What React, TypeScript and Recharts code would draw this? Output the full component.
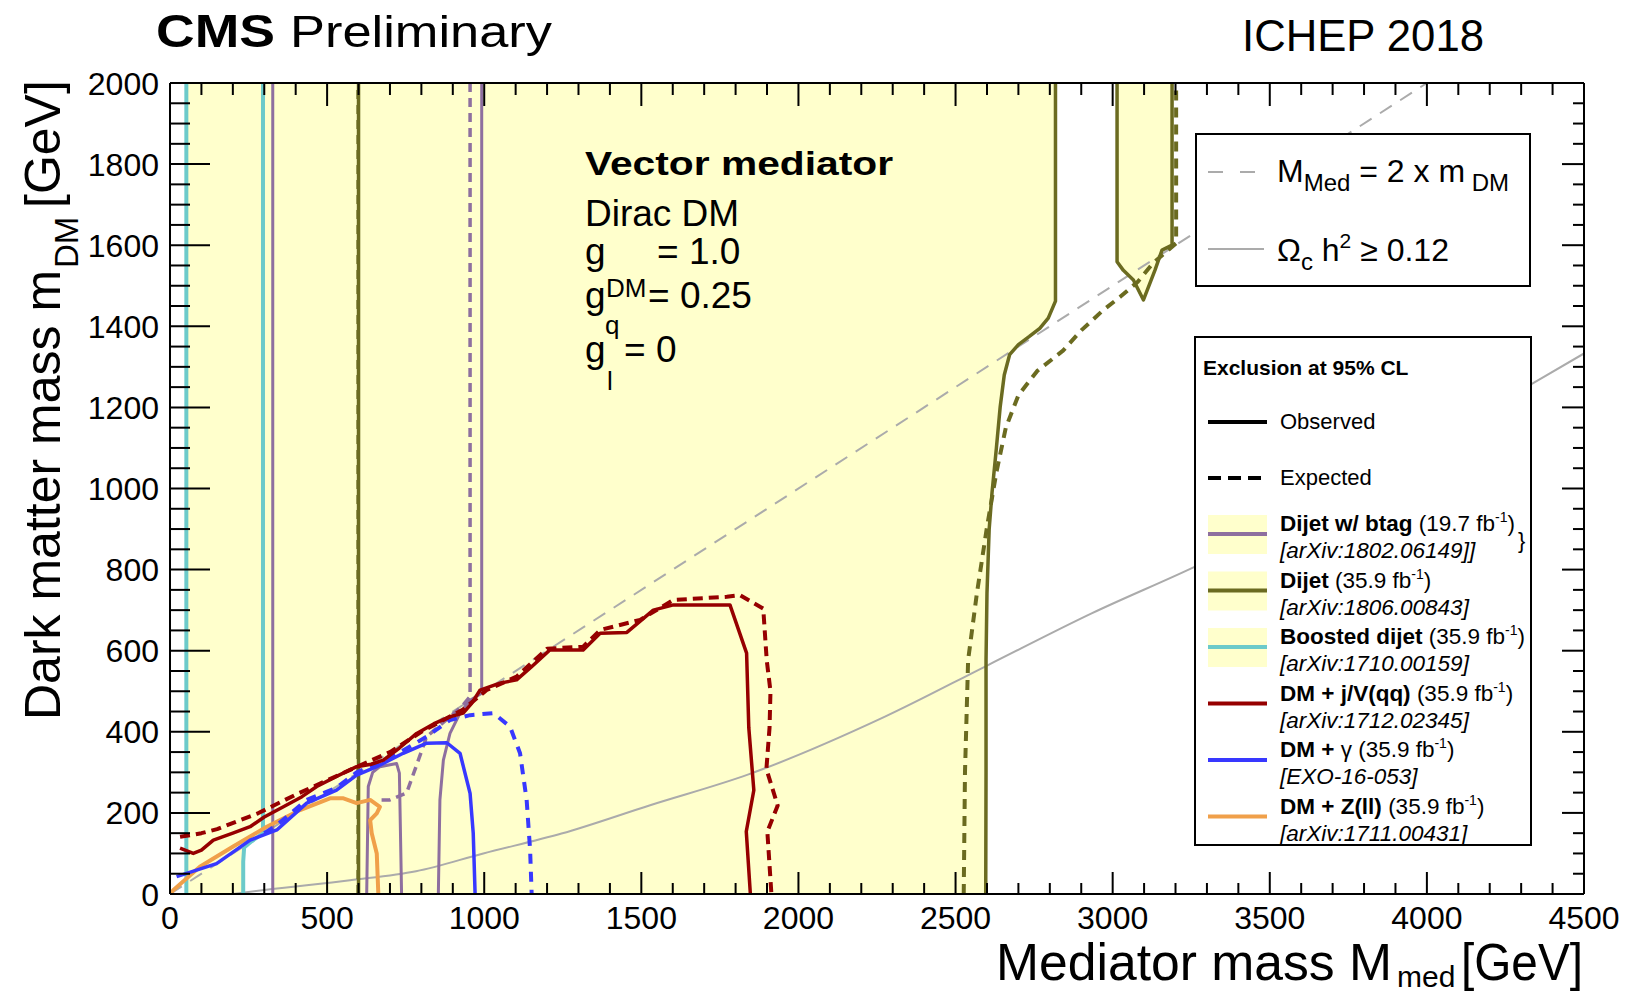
import React from 'react';
import { ComposedChart, Line, Area, XAxis, YAxis } from 'recharts';

const W = 1630;
const H = 994;
const FONT = '"Liberation Sans", Arial, Helvetica, sans-serif';

// ---- axis ticks ----
const xMajorTicks = [0, 500, 1000, 1500, 2000, 2500, 3000, 3500, 4000, 4500];
const yMajorTicks = [0, 200, 400, 600, 800, 1000, 1200, 1400, 1600, 1800, 2000];
const xAllTicks: number[] = [];
for (let v = 0; v <= 4500; v += 100) xAllTicks.push(v);
const yAllTicks: number[] = [];
for (let v = 0; v <= 2000; v += 50) yAllTicks.push(v);

// ---- data: [Mmed, mDM] in GeV ----
const yellowMain = [[48, 0], [2596, 0], [2597, 300], [2597, 577], [2600, 742], [2607, 900], [2616, 989], [2630, 1100], [2642, 1201], [2655, 1280], [2672, 1330], [2700, 1355], [2735, 1375], [2768, 1395], [2795, 1420], [2818, 1462], [2818, 2000]];
const yellowIsland = [[3014, 2000], [3014, 1559], [3034, 1538], [3066, 1514], [3098, 1465], [3135, 1539], [3157, 1588], [3189, 1600], [3189, 2000]];
const boostedHole = [[233, 0], [233, 115], [260, 130], [296, 150], [327, 150], [327, 0]];

const dijetObs = [[2596, 0], [2597, 300], [2597, 577], [2600, 742], [2607, 900], [2616, 989], [2630, 1100], [2642, 1201], [2655, 1280], [2672, 1330], [2700, 1355], [2735, 1375], [2768, 1395], [2795, 1420], [2818, 1462], [2818, 2000]];
const dijetExp = [[2526, 0], [2530, 300], [2540, 577], [2568, 742], [2600, 905], [2630, 1040], [2660, 1150], [2700, 1230], [2760, 1290], [2842, 1340], [2900, 1390], [2970, 1440], [3023, 1472], [3080, 1510], [3129, 1556], [3202, 1605], [3202, 2000]];
const dijetIslandObs = [[3014, 2000], [3014, 1559], [3034, 1538], [3066, 1514], [3098, 1465], [3135, 1539], [3157, 1588], [3189, 1600], [3189, 2000]];
const dijetLowObs = [[600, 0], [600, 2000]];
const dijetLowExp = [[598, 0], [598, 2000]];

const boostedLeft = [[52, 0], [52, 2000]];
const boostedRight = [[296, 2000], [296, 150], [260, 130], [236, 115], [233, 80], [233, 0]];

const btagLeft = [[327, 0], [327, 2000]];
const btagArch = [[626, 0], [631, 265], [645, 300], [668, 314], [721, 322], [730, 298], [737, 0]];
const btagObs = [[854, 0], [859, 232], [870, 330], [891, 396], [923, 446], [955, 478], [992, 495], [992, 2000]];
const btagExp = [[955, 2000], [955, 487], [928, 462], [880, 430], [817, 388], [753, 249], [700, 232], [668, 232]];

const jetObs = [[32, 113], [74, 100], [100, 108], [138, 133], [200, 150], [255, 166], [300, 190], [361, 215], [420, 240], [467, 265], [530, 290], [594, 314], [640, 320], [679, 330], [730, 360], [785, 396], [840, 420], [891, 437], [933, 446], [960, 470], [987, 503], [1050, 520], [1103, 528], [1150, 560], [1209, 602], [1260, 602], [1315, 602], [1369, 643], [1454, 645], [1538, 700], [1602, 713], [1700, 713], [1782, 713], [1835, 594], [1842, 410], [1858, 256], [1834, 154], [1847, 0]];
const jetExp = [[32, 141], [74, 146], [100, 150], [150, 160], [280, 199], [400, 245], [573, 306], [700, 350], [800, 400], [933, 455], [1008, 503], [1103, 536], [1200, 605], [1315, 610], [1369, 651], [1496, 676], [1602, 725], [1772, 733], [1814, 737], [1888, 704], [1899, 577], [1911, 500], [1908, 410], [1898, 308], [1934, 218], [1901, 154], [1914, 0]];

const gammaObs = [[21, 43], [148, 75], [255, 133], [340, 158], [435, 224], [530, 256], [594, 293], [658, 314], [742, 347], [817, 372], [881, 373], [923, 347], [955, 248], [965, 150], [971, 0]];
const gammaExp = [[300, 150], [340, 170], [435, 232], [530, 262], [594, 300], [700, 335], [817, 388], [891, 429], [955, 441], [1029, 446], [1082, 413], [1114, 347], [1135, 232], [1146, 109], [1151, 0]];

const zllObs = [[0, 0], [11, 10], [95, 67], [201, 117], [308, 166], [414, 207], [509, 236], [552, 236], [594, 224], [637, 232], [668, 215], [658, 199], [637, 182], [642, 150], [658, 100], [663, 0]];

const relicLine = [[200, 0], [300, 10], [573, 34], [783, 56], [997, 100], [1246, 149], [1528, 219], [1841, 295], [2272, 436], [2602, 564], [2933, 692], [3264, 808], [4330, 1256], [4500, 1333]];
const diagLine = [[0, 0], [4000, 2000]];

const C = {
  btag: '#8E6F9F',
  dijet: '#6B6B20',
  boosted: '#6CCACA',
  jet: '#960000',
  gamma: '#3838FF',
  zll: '#F0A04A',
  yellow: '#FFFFCC',
  gray: '#ABABAB',
};

const toPts = (a: number[][]) => a.map(([M, m]) => ({ M, m }));

function BottomTick(p: any) {
  const v = p.payload.value;
  const major = xMajorTicks.includes(v);
  return (
    <g>
      <line x1={p.x} x2={p.x} y1={p.y} y2={p.y - (major ? 22 : 11)} stroke="#000" strokeWidth={2} />
      {major && (
        <text x={p.x} y={p.y + 35} textAnchor="middle" fontSize={32} fontFamily={FONT} fill="#000">{v}</text>
      )}
    </g>
  );
}
function TopTick(p: any) {
  const v = p.payload.value;
  const major = xMajorTicks.includes(v);
  return <line x1={p.x} x2={p.x} y1={p.y} y2={p.y + (major ? 23 : 12)} stroke="#000" strokeWidth={2} />;
}
function LeftTick(p: any) {
  const v = p.payload.value;
  const major = yMajorTicks.includes(v);
  return (
    <g>
      <line x1={p.x} x2={p.x + (major ? 40 : 20)} y1={p.y} y2={p.y} stroke="#000" strokeWidth={2} />
      {major && (
        <text x={p.x - 11} y={p.y} dy="0.36em" textAnchor="end" fontSize={32} fontFamily={FONT} fill="#000">{v}</text>
      )}
    </g>
  );
}
function RightTick(p: any) {
  const v = p.payload.value;
  const major = yMajorTicks.includes(v);
  return <line x1={p.x} x2={p.x - (major ? 22 : 11)} y1={p.y} y2={p.y} stroke="#000" strokeWidth={2} />;
}

function series(key: string, data: number[][], color: string, width: number, dash?: string, curve: any = 'linear') {
  return (
    <Line
      key={key}
      data={toPts(data)}
      dataKey="m"
      type={curve}
      stroke={color}
      strokeWidth={width}
      strokeDasharray={dash}
      dot={false}
      activeDot={false}
      isAnimationActive={false}
      legendType="none"
      strokeLinejoin="round"
    />
  );
}

function fill(key: string, data: number[][], color: string, base: number) {
  return (
    <Area
      key={key}
      data={toPts(data)}
      dataKey="m"
      type="linear"
      baseValue={base}
      stroke="none"
      fill={color}
      fillOpacity={1}
      dot={false}
      activeDot={false}
      isAnimationActive={false}
      legendType="none"
    />
  );
}

const legendEntries = [
  { bold: 'Dijet w/ btag', lumi: '19.7', ref: '[arXiv:1802.06149]]', color: C.btag, box: true },
  { bold: 'Dijet', lumi: '35.9', ref: '[arXiv:1806.00843]', color: C.dijet, box: true },
  { bold: 'Boosted dijet', lumi: '35.9', ref: '[arXiv:1710.00159]', color: C.boosted, box: true },
  { bold: 'DM + j/V(qq)', lumi: '35.9', ref: '[arXiv:1712.02345]', color: C.jet, box: false },
  { bold: 'DM + ', extra: 'γ', lumi: '35.9', ref: '[EXO-16-053]', color: C.gamma, box: false },
  { bold: 'DM + Z(ll)', lumi: '35.9', ref: '[arXiv:1711.00431]', color: C.zll, box: false },
];

function Overlay() {
  const entryY0 = 534;
  const step = 56.5;
  return (
    <svg width={W} height={H} style={{ position: 'absolute', left: 0, top: 0, pointerEvents: 'none' }} fontFamily={FONT}>
      {/* titles */}
      <text x={156} y={47} fontSize={46} fontWeight="bold" textLength={119} lengthAdjust="spacingAndGlyphs">CMS</text>
      <text x={290} y={47} fontSize={45} textLength={262} lengthAdjust="spacingAndGlyphs">Preliminary</text>
      <text x={1242} y={51} fontSize={45} textLength={242} lengthAdjust="spacingAndGlyphs">ICHEP 2018</text>

      {/* axis titles */}
      <text x={996} y={980} fontSize={52} textLength={396} lengthAdjust="spacingAndGlyphs">Mediator mass M</text>
      <text x={1397} y={987} fontSize={30}>med</text>
      <text x={1583} y={980} fontSize={52} textAnchor="end" textLength={122} lengthAdjust="spacingAndGlyphs">[GeV]</text>
      <g transform="translate(60,720) rotate(-90)">
        <text x={0} y={0} fontSize={50}>Dark matter mass m</text>
        <text x={452} y={18} fontSize={33}>DM</text>
        <text x={512} y={0} fontSize={50}>[GeV]</text>
      </g>

      {/* model text */}
      <text x={585} y={175} fontSize={34} fontWeight="bold" textLength={308} lengthAdjust="spacingAndGlyphs">Vector mediator</text>
      <text x={585} y={226} fontSize={37}>Dirac DM</text>
      <text x={585} y={264} fontSize={37}>g</text>
      <text x={606} y={297} fontSize={26}>DM</text>
      <text x={657} y={264} fontSize={37}>= 1.0</text>
      <text x={585} y={308} fontSize={37}>g</text>
      <text x={605} y={334} fontSize={26}>q</text>
      <text x={648} y={308} fontSize={37}>= 0.25</text>
      <text x={585} y={362} fontSize={37}>g</text>
      <text x={607} y={390} fontSize={26}>l</text>
      <text x={624} y={362} fontSize={37}>= 0</text>

      {/* legend box 1 */}
      <rect x={1196} y={134} width={334} height={152} fill="#fff" stroke="#000" strokeWidth={2} />
      <line x1={1208} x2={1256} y1={172} y2={172} stroke={C.gray} strokeWidth={2} strokeDasharray="15 17" />
      <text x={1277} y={182} fontSize={32}>
        M<tspan fontSize={24} dy={9}>Med</tspan><tspan dy={-9}> = 2 x m</tspan><tspan fontSize={24} dy={9}> DM</tspan>
      </text>
      <line x1={1208} x2={1264} y1={249} y2={249} stroke={C.gray} strokeWidth={2} />
      <text x={1277} y={261} fontSize={32}>
        Ω<tspan fontSize={24} dy={9}>c</tspan><tspan dy={-9}> h</tspan><tspan fontSize={21} dy={-13}>2</tspan><tspan dy={13}> ≥ 0.12</tspan>
      </text>

      {/* legend box 2 */}
      <rect x={1195} y={337} width={336} height={508} fill="#fff" stroke="#000" strokeWidth={2} />
      <text x={1203} y={375} fontSize={21} fontWeight="bold">Exclusion at 95% CL</text>
      <line x1={1208} x2={1267} y1={422} y2={422} stroke="#000" strokeWidth={4} />
      <text x={1280} y={429} fontSize={22}>Observed</text>
      <line x1={1208} x2={1267} y1={478} y2={478} stroke="#000" strokeWidth={4} strokeDasharray="13 7" />
      <text x={1280} y={485} fontSize={22}>Expected</text>
      {legendEntries.map((e, i) => {
        const ly = entryY0 + i * step;
        return (
          <g key={i}>
            {e.box && <rect x={1208} y={ly - 19} width={59} height={39} fill={C.yellow} />}
            <line x1={1208} x2={1267} y1={ly} y2={ly} stroke={e.color} strokeWidth={4} />
            <text x={1280} y={ly - 3} fontSize={22.5}>
              <tspan fontWeight="bold">{e.bold}</tspan>
              {e.extra ? <tspan>{e.extra}</tspan> : null}
              <tspan>{' (' + e.lumi + ' fb'}</tspan>
              <tspan fontSize={14} dy={-9}>-1</tspan>
              <tspan dy={9}>)</tspan>
            </text>
            <text x={1280} y={ly + 24} fontSize={22.5} fontStyle="italic">{e.ref}</text>
          </g>
        );
      })}
      <text x={1518} y={548} fontSize={22}>{'}'}</text>
    </svg>
  );
}

export default function App() {
  return (
    <div style={{ position: 'absolute', left: 0, top: 0, width: W, height: H, background: '#fff' }}>
      <ComposedChart width={W} height={H} margin={{ top: 82, right: 45, bottom: 40, left: 0 }}>
        <XAxis
          type="number"
          dataKey="M"
          domain={[0, 4500]}
          ticks={xAllTicks}
          interval={0}
          allowDataOverflow
          height={60}
          tickSize={0}
          tickMargin={0}
          tickLine={false}
          axisLine={{ stroke: '#000', strokeWidth: 2 }}
          tick={BottomTick}
        />
        <XAxis
          xAxisId="top"
          orientation="top"
          type="number"
          dataKey="M"
          domain={[0, 4500]}
          ticks={xAllTicks}
          interval={0}
          allowDataOverflow
          height={1}
          tickSize={0}
          tickMargin={0}
          tickLine={false}
          axisLine={{ stroke: '#000', strokeWidth: 2 }}
          tick={TopTick}
        />
        <YAxis
          type="number"
          domain={[0, 2000]}
          ticks={yAllTicks}
          interval={0}
          allowDataOverflow
          width={170}
          tickSize={0}
          tickMargin={0}
          tickLine={false}
          axisLine={{ stroke: '#000', strokeWidth: 2 }}
          tick={LeftTick}
        />
        <YAxis
          yAxisId="right"
          orientation="right"
          type="number"
          domain={[0, 2000]}
          ticks={yAllTicks}
          interval={0}
          allowDataOverflow
          width={1}
          tickSize={0}
          tickMargin={0}
          tickLine={false}
          axisLine={{ stroke: '#000', strokeWidth: 2 }}
          tick={RightTick}
        />
        {fill('yMain', yellowMain, C.yellow, 2000)}
        {fill('yIsland', yellowIsland, C.yellow, 2000)}
        {fill('hole', boostedHole, '#FFFFFF', 0)}

        {series('relic', relicLine, C.gray, 2, undefined, 'monotone')}
        {series('diag', diagLine, C.gray, 2, '14 10')}

        {series('boostL', boostedLeft, C.boosted, 4)}
        {series('boostR', boostedRight, C.boosted, 4)}

        {series('dijetLowExp', dijetLowExp, C.dijet, 3, '9 6')}
        {series('dijetLowObs', dijetLowObs, C.dijet, 3.5)}
        {series('dijetExp', dijetExp, C.dijet, 4, '10 7')}
        {series('dijetObs', dijetObs, C.dijet, 3.5)}
        {series('dijetIsl', dijetIslandObs, C.dijet, 3.5)}

        {series('btagL', btagLeft, C.btag, 3)}
        {series('btagArch', btagArch, C.btag, 3)}
        {series('btagExp', btagExp, C.btag, 3.5, '9 6')}
        {series('btagObs', btagObs, C.btag, 3)}

        {series('zll', zllObs, C.zll, 4)}
        {series('gammaExp', gammaExp, C.gamma, 4, '10 8')}
        {series('gammaObs', gammaObs, C.gamma, 3.5)}
        {series('jetExp', jetExp, C.jet, 4, '10 6')}
        {series('jetObs', jetObs, C.jet, 3.5)}
      </ComposedChart>
      <Overlay />
    </div>
  );
}
